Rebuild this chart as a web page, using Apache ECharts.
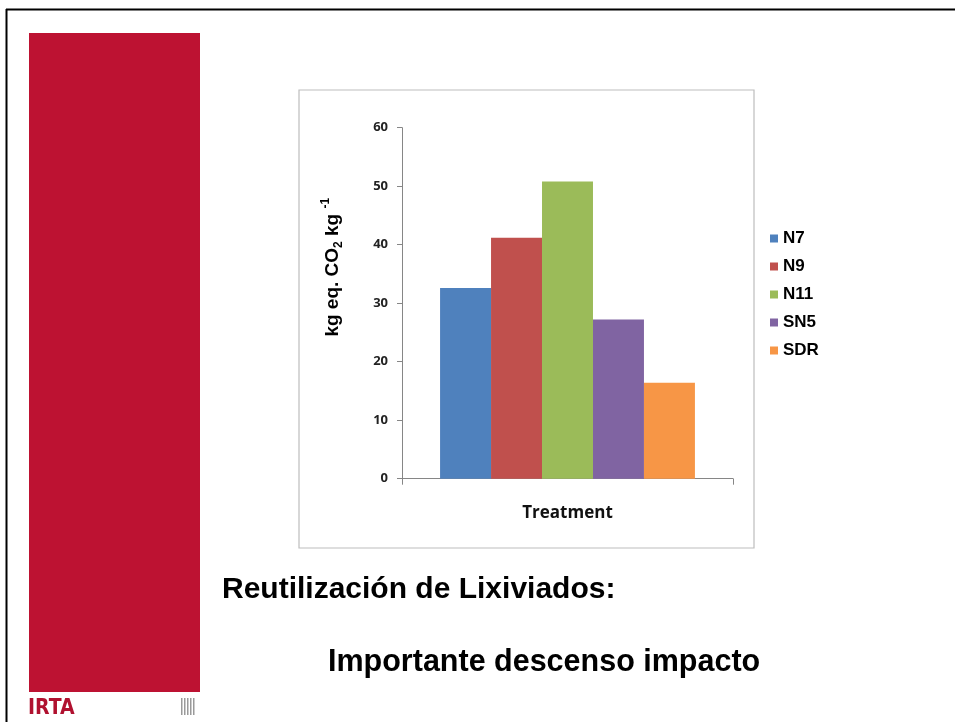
<!DOCTYPE html>
<html>
<head>
<meta charset="utf-8">
<script src="https://cdn.jsdelivr.net/npm/echarts@6/dist/echarts.min.js"></script>
<style>
html,body{margin:0;padding:0;background:#fff;}
#chart{width:955px;height:722px;}
</style>
</head>
<body>
<div id="chart"></div>
<script>
const categories = ['Treatment'];
const seriesNames = ['N7', 'N9', 'N11', 'SN5', 'SDR'];
const seriesValues = [32.6, 41.2, 50.8, 27.2, 16.4];
const seriesColors = ['#4F81BD', '#C0504D', '#9BBB59', '#8064A2', '#F79646'];
const yTicks = { min: 0, max: 60, interval: 10 };

const chart = echarts.init(document.getElementById('chart'));

const series = seriesNames.map((n, i) => ({
  name: n,
  type: 'bar',
  data: [seriesValues[i]],
  barGap: '0%',
  barCategoryGap: '23%',
  itemStyle: { color: seriesColors[i] }
}));

const stripes = [];
for (let k = 0; k < 5; k++) {
  stripes.push({ type: 'rect', shape: { x: 181 + k * 3, y: 698, width: 1.5, height: 17 }, style: { fill: '#9a9a9a' }, silent: true });
}

chart.setOption({
  animation: false,
  backgroundColor: '#fff',
  graphic: [
    { type: 'rect', shape: { x: 299, y: 90, width: 455, height: 458 }, style: { fill: '#fff', stroke: '#bdbdbd', lineWidth: 1.2 }, z: -10, silent: true },
    { type: 'line', shape: { x1: 6, y1: 9.5, x2: 955, y2: 9.5 }, style: { stroke: '#000', lineWidth: 2 }, silent: true },
    { type: 'line', shape: { x1: 6.5, y1: 9, x2: 6.5, y2: 722 }, style: { stroke: '#000', lineWidth: 2 }, silent: true },
    { type: 'rect', shape: { x: 29, y: 33, width: 171, height: 659 }, style: { fill: '#bd1232' }, silent: true },
    { type: 'text', left: 28, top: 698, style: { text: 'IRTA', font: 'bold 21px "DejaVu Sans Condensed", "DejaVu Sans"', fill: '#b0112f' }, silent: true },
    ...stripes,
    { type: 'text', left: 222, top: 575, style: { text: 'Reutilización de Lixiviados:', font: 'bold 30px "Liberation Sans", Arial, sans-serif', fill: '#000' }, silent: true },
    { type: 'text', left: 328, top: 647, style: { text: 'Importante descenso impacto', font: 'bold 30.5px "Liberation Sans", Arial, sans-serif', fill: '#000' }, silent: true }
  ],
  legend: {
    orient: 'vertical',
    left: 770,
    top: 230,
    padding: 0,
    itemWidth: 8,
    itemHeight: 8,
    itemGap: 11,
    icon: 'rect',
    textStyle: { fontFamily: '"Liberation Sans", Arial, sans-serif', fontWeight: 'bold', fontSize: 17, color: '#000', lineHeight: 17 },
    data: seriesNames
  },
  grid: { left: 402, right: 222, top: 127.7, bottom: 243.3, containLabel: false },
  xAxis: {
    type: 'category',
    data: categories,
    axisLine: { lineStyle: { color: '#868686', width: 1 } },
    axisTick: { show: true, alignWithLabel: false, length: 6, lineStyle: { color: '#868686' } },
    axisLabel: { margin: 26, fontFamily: '"Open Sans", sans-serif', fontWeight: 'bold', fontSize: 17, color: '#111' }
  },
  yAxis: {
    type: 'value',
    min: yTicks.min,
    max: yTicks.max,
    interval: yTicks.interval,
    splitLine: { show: false },
    axisLine: { show: true, lineStyle: { color: '#868686', width: 1 } },
    axisTick: { show: true, length: 5, lineStyle: { color: '#868686' } },
    axisLabel: { margin: 14, fontFamily: '"Open Sans", sans-serif', fontWeight: 'bold', fontSize: 13, color: '#222' },
    name: '{a|kg eq. CO}{sub|2}{a| kg }{sup|-1}',
    nameLocation: 'middle',
    nameRotate: 90,
    nameGap: 57,
    nameTextStyle: {
      padding: [0, 0, 0, 72],
      rich: {
        a: { fontFamily: '"Liberation Sans", Arial, sans-serif', fontWeight: 'bold', fontSize: 19, color: '#000', lineHeight: 25, verticalAlign: 'middle' },
        sub: { fontFamily: '"Liberation Sans", Arial, sans-serif', fontWeight: 'bold', fontSize: 12, color: '#000', lineHeight: 12, verticalAlign: 'bottom' },
        sup: { fontFamily: '"Liberation Sans", Arial, sans-serif', fontWeight: 'bold', fontSize: 12, color: '#000', lineHeight: 12, verticalAlign: 'top' }
      }
    }
  },
  series: series
});
</script>
</body>
</html>
